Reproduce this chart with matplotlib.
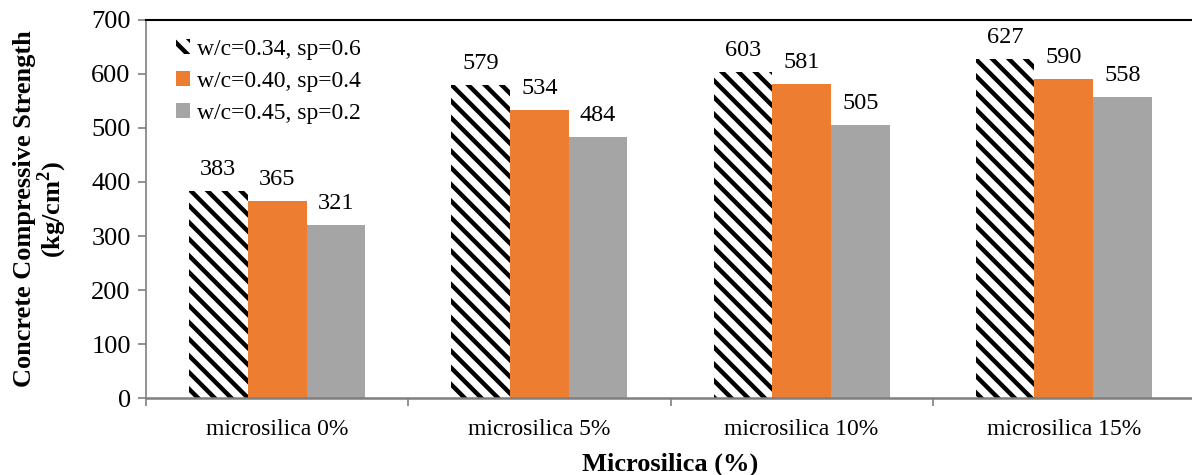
import numpy as np
import matplotlib
matplotlib.use("Agg")
import matplotlib.pyplot as plt

plt.rcParams['font.family'] = ['Liberation Serif', 'DejaVu Serif']
plt.rcParams['hatch.linewidth'] = 3.2
plt.rcParams['mathtext.fontset'] = 'custom'
plt.rcParams['mathtext.rm'] = 'Liberation Serif'
plt.rcParams['mathtext.bf'] = 'Liberation Serif:bold'

categories = ["microsilica 0%", "microsilica 5%", "microsilica 10%", "microsilica 15%"]
series_names = ["w/c=0.34, sp=0.6", "w/c=0.40, sp=0.4", "w/c=0.45, sp=0.2"]
wc034 = [383, 579, 603, 627]
wc040 = [365, 534, 581, 590]
wc045 = [321, 484, 505, 558]

fig = plt.figure(figsize=(11.92, 4.75), dpi=100)
ax = fig.add_axes([0.1225, 0.162, 0.88, 0.796])

x = np.arange(len(categories))
w = 0.224
gray_axis = '#7f7f7f'

b1 = ax.bar(x - w, wc034, width=w, facecolor='white', edgecolor='black',
            hatch='\\\\', linewidth=0, label=series_names[0])
b2 = ax.bar(x, wc040, width=w, color='#ED7D31', linewidth=0, label=series_names[1])
b3 = ax.bar(x + w, wc045, width=w, color='#A5A5A5', linewidth=0, label=series_names[2])

for bars in (b1, b2, b3):
    for r in bars:
        ax.annotate(f"{int(r.get_height())}", (r.get_x() + r.get_width() / 2, r.get_height()),
                    xytext=(0, 8), textcoords='offset points', ha='center', va='bottom',
                    fontsize=17.5)

ax.set_xlim(-0.5, 3.5)
ax.set_ylim(0, 700)
ax.set_yticks(np.arange(0, 701, 100))
ax.set_xticks(x)
ax.set_xticklabels(categories, fontsize=17)
ax.set_xticks(np.arange(-0.5, 3.6, 1), minor=True)
ax.tick_params(axis='x', which='major', length=0, pad=15)
ax.tick_params(axis='x', which='minor', length=6, color=gray_axis, width=1.2)
ax.tick_params(axis='y', labelsize=19, length=6, color=gray_axis, width=1.2, pad=5)

ax.spines['right'].set_visible(False)
ax.spines['top'].set_color('black')
ax.spines['top'].set_linewidth(1.5)
ax.spines['left'].set_color(gray_axis)
ax.spines['bottom'].set_color(gray_axis)
ax.spines['left'].set_linewidth(1.2)
ax.spines['bottom'].set_linewidth(1.8)

ax.set_ylabel("Concrete Compressive Strength\n(kg/cm$^\\mathbf{2}$)", fontsize=19,
              fontweight='bold', labelpad=16, linespacing=1.0)
ax.set_xlabel("Microsilica (%)", fontsize=19, fontweight='bold', labelpad=9)

ax.legend(loc='upper left', frameon=False, fontsize=17, handlelength=0.6,
          handleheight=0.6, handletextpad=0.3, labelspacing=0.45,
          bbox_to_anchor=(0.008, 1.005))

fig.savefig("out.png", dpi=100)
